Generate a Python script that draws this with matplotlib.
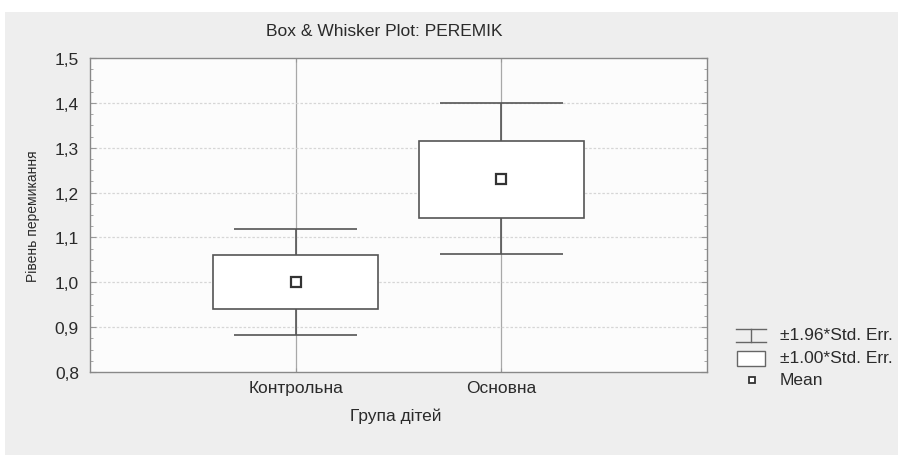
import matplotlib
matplotlib.use("Agg")
import matplotlib.pyplot as plt
from matplotlib.patches import Rectangle
from matplotlib.lines import Line2D
from matplotlib.ticker import MultipleLocator, FuncFormatter

categories = ["Контрольна", "Основна"]
means = [1.00, 1.23]
se_low = [0.94, 1.143]
se_high = [1.06, 1.316]
ci_low = [0.882, 1.062]
ci_high = [1.118, 1.400]

title = "Box & Whisker Plot: PEREMIK"
xlabel = "Група дітей"
ylabel = "Рівень перемикання"
legend_labels = ["±1.96*Std. Err.", "±1.00*Std. Err.", "Mean"]

plt.rcParams['font.family'] = ['Liberation Sans', 'DejaVu Sans']
FS = 12.5
TXT = '#2a2a2a'

W, H = 898, 456
fig = plt.figure(figsize=(W / 100, H / 100), dpi=100, facecolor='white')

# gray panel background
fig.add_artist(Rectangle((5 / W, 0), 1 - 5 / W, 1 - 13 / H, transform=fig.transFigure,
                         facecolor='#eeeeee', edgecolor='none', zorder=-10))

left, right, top, bottom = 90, 707, 59, 373
ax = fig.add_axes([left / W, 1 - bottom / H, (right - left) / W, (bottom - top) / H])
ax.set_facecolor('#fcfcfc')

pos = list(range(len(categories)))
box_w = 0.8
cap_w = 0.6
dark = '#555555'

# vertical gridlines at categories
for p in pos:
    ax.axvline(p, color='#a8a8a8', lw=0.9, zorder=1)
# horizontal gridlines
for yv in [0.9, 1.0, 1.1, 1.2, 1.3, 1.4]:
    ax.axhline(yv, color='#d6d6d6', lw=0.9, ls=(0, (2, 1.5)), zorder=1)

for p, m, sl, sh, cl, ch in zip(pos, means, se_low, se_high, ci_low, ci_high):
    ax.vlines(p, cl, sl, color=dark, lw=1.2, zorder=3)
    ax.vlines(p, sh, ch, color=dark, lw=1.2, zorder=3)
    ax.hlines([cl, ch], p - cap_w / 2, p + cap_w / 2, color=dark, lw=1.2, zorder=3)
    ax.add_patch(Rectangle((p - box_w / 2, sl), box_w, sh - sl, facecolor='white',
                           edgecolor=dark, lw=1.2, zorder=4))
ax.plot(pos, means, ls='none', marker='s', ms=6.5, mfc='white', mec='#333333',
        mew=1.6, zorder=5)

ax.set_xlim(-1, 2)
ax.set_ylim(0.8, 1.5)
ax.set_xticks(pos)
ax.set_xticklabels(categories, fontsize=FS, color=TXT)
ax.yaxis.set_major_locator(MultipleLocator(0.1))
ax.yaxis.set_minor_locator(MultipleLocator(0.025))
ax.yaxis.set_major_formatter(FuncFormatter(lambda v, _: f"{v:.1f}".replace('.', ',')))
ax.tick_params(axis='y', which='both', direction='in', left=True, right=True,
               labelsize=FS, labelcolor=TXT, color='#999999', pad=8)
ax.tick_params(axis='y', which='major', length=4)
ax.tick_params(axis='y', which='minor', length=2)
ax.tick_params(axis='x', direction='in', length=3, color='#999999', top=True, pad=6)
for s in ax.spines.values():
    s.set_color('#888888')
    s.set_linewidth(1.0)

fig.text(384 / W, 1 - 31 / H, title, ha='center', va='center', fontsize=FS, color=TXT)
fig.text(33 / W, 1 - 216 / H, ylabel, ha='center', va='center', rotation=90,
         fontsize=10, color=TXT)
fig.text(396 / W, 1 - 416 / H, xlabel, ha='center', va='center', fontsize=FS, color=TXT)

# legend (manual)
def fx(x):
    return x / W

def fy(y):
    return 1 - y / H

fig.add_artist(Line2D([fx(736), fx(766)], [fy(330), fy(330)], color='#666666', lw=1.0,
                      transform=fig.transFigure))
fig.add_artist(Line2D([fx(736), fx(766)], [fy(343), fy(343)], color='#666666', lw=1.0,
                      transform=fig.transFigure))
fig.add_artist(Line2D([fx(751), fx(751)], [fy(330), fy(343)], color='#666666', lw=1.0,
                      transform=fig.transFigure))
fig.add_artist(Rectangle((fx(737), fy(367)), (765 - 737) / W, (367 - 352) / H,
                         transform=fig.transFigure, facecolor='white', edgecolor='#666666', lw=1.0))
fig.add_artist(Line2D([fx(752)], [fy(381)], marker='s', ms=5, mfc='white', mec='#333333',
                      mew=1.3, ls='none', transform=fig.transFigure))
for yv, lab in zip([336, 359, 381], legend_labels):
    fig.text(fx(780), fy(yv), lab, ha='left', va='center', fontsize=FS, color=TXT)

fig.savefig("out.png", dpi=100, facecolor=fig.get_facecolor())
